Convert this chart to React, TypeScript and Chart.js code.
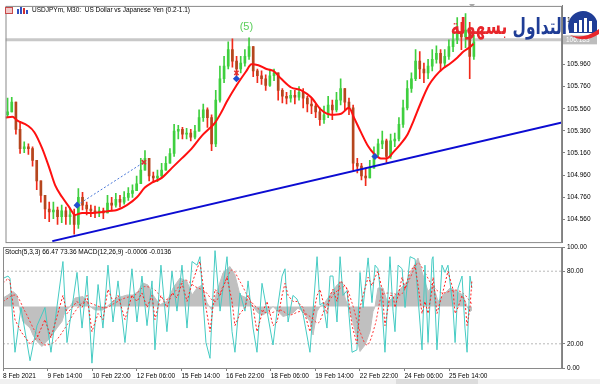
import React, { useEffect, useRef } from "react";
import { Chart, registerables } from "chart.js";

Chart.register(...registerables);

// ---------------- data ----------------
const titleText = "USDJPYm, M30:  US Dollar vs Japanese Yen (0.2-1.1)";
const indicatorText = "Stoch(5,3,3) 66.47 73.36 MACD(12,26,9) -0.0006 -0.0136";

const timeTickHours = [0, 32, 64, 96, 128, 160, 192, 224, 256, 288, 320];
const timeTickLabels = ["8 Feb 2021", "9 Feb 14:00", "10 Feb 22:00", "12 Feb 06:00", "15 Feb 14:00", "16 Feb 22:00", "18 Feb 06:00", "19 Feb 14:00", "22 Feb 22:00", "24 Feb 06:00", "25 Feb 14:00"];
const priceTicks = [104.56, 104.76, 104.96, 105.16, 105.36, 105.56, 105.76, 105.96, 106.16, 106.36];
const stochTicks = [0, 20, 80, 100];
const stochLevels = [20, 80];

const candleStepHours = 3;
const firstOpen = 105.506;
const candleClose = [105.532, 105.620, 105.374, 105.199, 105.216, 105.199, 105.093, 104.908, 104.776, 104.653,
  104.627, 104.644, 104.583, 104.636, 104.583, 104.600, 104.513, 104.759, 104.688, 104.653,
  104.636, 104.618, 104.636, 104.618, 104.706, 104.688, 104.741, 104.715, 104.759, 104.794,
  104.820, 104.882, 105.005, 105.111, 104.952, 104.935, 104.952, 105.005, 105.067, 105.155,
  105.357, 105.374, 105.330, 105.339, 105.304, 105.357, 105.480, 105.550, 105.480, 105.242,
  105.638, 105.831, 105.946, 106.095, 105.990, 105.919, 105.972, 106.033, 106.121, 105.902,
  105.858, 105.831, 105.770, 105.858, 105.884, 105.726, 105.673, 105.656, 105.682, 105.664,
  105.708, 105.656, 105.603, 105.585, 105.532, 105.462, 105.506, 105.594, 105.550, 105.638,
  105.743, 105.620, 105.568, 105.067, 105.041, 104.952, 104.935, 105.023, 105.146, 105.242,
  105.269, 105.128, 105.269, 105.286, 105.418, 105.568, 105.743, 105.831, 105.990, 105.919,
  105.884, 105.946, 106.007, 106.060, 105.972, 106.033, 106.121, 106.183, 106.253, 106.209,
  106.271, 106.033, 106.165];
const candleHigh = [105.656, 105.664, 105.612, 105.445, 105.260, 105.242, 105.216, 104.988, 104.891, 104.759,
  104.715, 104.715, 104.671, 104.688, 104.671, 104.653, 104.653, 104.838, 104.803, 104.715,
  104.688, 104.680, 104.671, 104.662, 104.776, 104.759, 104.794, 104.776, 104.811, 104.847,
  104.873, 104.952, 105.111, 105.181, 105.111, 104.988, 105.005, 105.067, 105.128, 105.199,
  105.418, 105.409, 105.392, 105.383, 105.374, 105.409, 105.550, 105.603, 105.568, 105.506,
  105.726, 105.946, 106.033, 106.165, 106.192, 106.033, 106.033, 106.095, 106.201, 106.121,
  105.919, 105.902, 105.866, 105.919, 105.919, 105.884, 105.743, 105.708, 105.726, 105.726,
  105.761, 105.743, 105.673, 105.656, 105.603, 105.568, 105.585, 105.673, 105.638, 105.708,
  105.831, 105.726, 105.656, 105.594, 105.111, 105.067, 105.023, 105.093, 105.216, 105.286,
  105.357, 105.286, 105.330, 105.339, 105.480, 105.638, 105.814, 105.884, 106.095, 106.077,
  105.972, 106.007, 106.095, 106.130, 106.095, 106.095, 106.183, 106.271, 106.385, 106.341,
  106.420, 106.341, 106.227];
const candleLow = [105.480, 105.532, 105.330, 105.155, 105.163, 105.146, 105.041, 104.829, 104.715, 104.565,
  104.539, 104.565, 104.513, 104.530, 104.513, 104.513, 104.425, 104.478, 104.644, 104.600,
  104.583, 104.574, 104.583, 104.565, 104.636, 104.636, 104.671, 104.671, 104.697, 104.732,
  104.759, 104.829, 104.891, 105.041, 104.908, 104.891, 104.900, 104.935, 105.005, 105.067,
  105.128, 105.286, 105.286, 105.286, 105.269, 105.286, 105.374, 105.445, 105.392, 105.181,
  105.216, 105.620, 105.796, 105.919, 105.937, 105.858, 105.884, 105.946, 106.007, 105.849,
  105.796, 105.779, 105.726, 105.761, 105.814, 105.638, 105.612, 105.603, 105.620, 105.603,
  105.638, 105.568, 105.532, 105.515, 105.480, 105.409, 105.427, 105.480, 105.462, 105.532,
  105.594, 105.550, 105.506, 105.005, 104.979, 104.917, 104.864, 104.952, 105.058, 105.128,
  105.199, 105.075, 105.111, 105.216, 105.269, 105.392, 105.550, 105.708, 105.814, 105.831,
  105.796, 105.831, 105.902, 105.972, 105.902, 105.937, 106.007, 106.077, 106.148, 106.095,
  106.113, 105.831, 106.007];

const maHours = [0, 5.0, 8.6, 15.8, 20.8, 26.5, 31.6, 35.9, 40.9, 45.9,
  50.2, 55.2, 62.4, 69.6, 74.6, 80.3, 87.5, 94.7, 100.4, 105.5,
  112.6, 119.8, 127.0, 134.1, 141.3, 146.3, 150.6, 155.7, 159.3, 166.4,
  173.6, 177.2, 182.2, 188.0, 193.0, 198.7, 205.9, 213.1, 220.2, 227.4,
  234.6, 241.8, 247.5, 251.1, 256.1, 261.1, 265.4, 270.5, 274.8, 279.8,
  284.8, 289.8, 294.1, 299.2, 304.9, 309.9, 315.7, 320.7, 325.7, 330.0,
  335.0, 337.2];
const maPrices = [105.480, 105.488, 105.453, 105.409, 105.348, 105.199, 105.023, 104.864, 104.759, 104.671,
  104.600, 104.618, 104.618, 104.627, 104.636, 104.644, 104.688, 104.759, 104.847, 104.891,
  104.935, 105.023, 105.111, 105.199, 105.313, 105.374, 105.427, 105.532, 105.620, 105.770,
  105.902, 105.963, 105.954, 105.919, 105.902, 105.831, 105.752, 105.726, 105.664, 105.550,
  105.506, 105.515, 105.568, 105.480, 105.348, 105.225, 105.155, 105.111, 105.111, 105.172,
  105.242, 105.330, 105.453, 105.612, 105.770, 105.858, 105.928, 105.972, 106.024, 106.077,
  106.121, 106.148];

const trendHours = [33.7, 401];
const trendPrices = [104.363, 105.436];
const tradeHours = [51.6, 99.7];
const tradePrices = [104.688, 105.076];
const markerHours = [51.6, 99.7, 166.4, 166.4, 266.2];
const markerPrices = [104.688, 105.076, 105.884, 105.831, 105.128];
const markerKinds = ["buy", "sell", "sell", "buy", "buy"];
const levelPrice = 106.183;
const waveHours = [173.6];
const wavePrices = [106.297];
const waveTexts = ["(5)"];

const macdHours = [0, 3.6, 7.2, 10.0, 11.5, 14.3, 19.4, 21.5, 24.4, 28.0,
  33.7, 38.7, 42.3, 44.5, 48.1, 51.7, 57.4, 62.4, 66.0, 71.7,
  74.6, 81.8, 89.0, 93.3, 96.8, 100.4, 104.0, 107.6, 112.6, 114.8,
  117.7, 122.0, 127.0, 132.0, 135.6, 139.2, 142.8, 146.3, 149.9, 153.5,
  157.8, 162.8, 166.4, 170.0, 175.0, 178.6, 182.9, 186.5, 190.1, 193.7,
  197.3, 200.9, 204.5, 208.0, 211.6, 215.2, 220.2, 222.4, 225.3, 227.4,
  229.6, 234.6, 239.6, 243.2, 245.4, 247.5, 249.0, 253.9, 256.1, 259.7,
  263.3, 265.4, 266.9, 269.0, 272.6, 275.5, 279.8, 283.4, 289.8, 294.1,
  297.7, 301.3, 304.9, 308.5, 312.1, 315.7, 320.7, 325.7, 330.0, 332.9,
  335.0, 336.4];
const macdValues = [0.017, 0.023, 0.030, 0.023, 0, -0.030, -0.043, -0.057, -0.070, -0.080,
  -0.063, -0.043, -0.030, -0.010, 0, 0.017, 0.020, 0, -0.007, -0.007,
  0, 0.017, 0.023, 0.023, 0.030, 0.047, 0.043, 0.023, 0.003, 0.007,
  0.010, 0.037, 0.057, 0.050, 0.023, 0.037, 0.043, 0.007, -0.007, 0.030,
  0.067, 0.080, 0.063, 0.023, 0.017, 0.003, -0.013, -0.017, -0.010, 0,
  -0.010, -0.020, -0.017, -0.013, -0.003, -0.010, -0.030, -0.057, -0.010, 0,
  0.003, 0.023, 0.043, 0.050, 0.017, 0, -0.010, -0.063, -0.090, -0.077,
  -0.050, -0.010, 0, 0.037, 0.037, 0.010, 0.017, 0.030, 0.050, 0.077,
  0.097, 0.063, 0.030, 0.043, 0.010, 0.023, 0.037, 0.030, 0.023, 0,
  -0.010, -0.007];
const macdSignalHours = [0, 8.6, 15.8, 23.0, 30.1, 37.3, 44.5, 51.7, 58.8, 66.0,
  73.2, 80.3, 87.5, 94.7, 101.9, 109.0, 116.2, 123.4, 130.6, 137.7,
  144.9, 152.1, 159.3, 164.3, 170.0, 177.2, 184.4, 191.5, 198.7, 205.9,
  213.1, 220.2, 226.0, 231.0, 238.2, 245.4, 250.4, 256.1, 261.1, 266.9,
  271.9, 277.6, 284.8, 292.0, 297.7, 302.7, 308.5, 315.7, 324.3, 331.4,
  336.4];
const macdSignalValues = [0.010, 0.023, -0.010, -0.050, -0.077, -0.070, -0.043, -0.010, 0.010, 0.003,
  -0.003, 0.007, 0.017, 0.023, 0.040, 0.033, 0.013, 0.030, 0.053, 0.040,
  0.030, 0.010, 0.050, 0.073, 0.050, 0.013, -0.007, -0.013, -0.007, -0.017,
  -0.010, -0.020, -0.033, -0.003, 0.027, 0.040, 0.007, -0.050, -0.077, -0.037,
  0.023, 0.027, 0.023, 0.057, 0.087, 0.067, 0.040, 0.027, 0.033, 0.023,
  0.005];

const stochHours = [0, 3.6, 5.0, 8.6, 12.9, 19.4, 24.4, 30.1, 34.4, 43.0,
  45.9, 53.1, 56.7, 60.3, 63.8, 68.2, 71.7, 75.3, 78.9, 82.5,
  87.5, 92.5, 96.1, 99.7, 103.3, 106.9, 109.0, 113.3, 117.6, 121.2,
  124.8, 128.4, 132.0, 135.6, 139.2, 141.3, 145.6, 148.5, 152.1, 155.7,
  160.7, 164.3, 166.4, 170.0, 173.6, 175.8, 179.4, 182.2, 185.8, 189.4,
  193.7, 196.6, 200.2, 202.3, 204.5, 208.0, 210.9, 215.2, 220.2, 225.3,
  227.4, 229.6, 232.4, 234.6, 236.7, 239.6, 241.8, 243.9, 246.8, 250.4,
  253.9, 256.1, 258.3, 261.9, 264.7, 266.9, 269.0, 271.9, 274.0, 277.6,
  279.8, 281.2, 283.4, 286.3, 288.4, 292.0, 295.6, 300.6, 302.7, 304.9,
  307.8, 308.5, 311.3, 314.9, 317.1, 319.2, 322.8, 324.3, 326.4, 329.3,
  331.4, 332.9, 335.0, 336.4];
const stochMain = [74, 76, 74, 13, 50, 6, 35, 50, 13, 88,
  21, 79, 33, 76, 4, 69, 33, 85, 38, 72,
  21, 82, 38, 76, 35, 72, 15, 85, 30, 80,
  47, 85, 33, 88, 85, 92, 21, 8, 97, 47,
  92, 30, 13, 62, 47, 72, 33, 13, 70, 47,
  19, 47, 76, 82, 38, 60, 57, 45, 13, 92,
  52, 54, 33, 76, 76, 38, 92, 60, 64, 13,
  15, 79, 50, 91, 54, 85, 82, 50, 13, 92,
  47, 30, 85, 82, 50, 92, 90, 15, 85, 21,
  90, 92, 15, 85, 79, 85, 50, 21, 66, 76,
  33, 13, 76, 66];
const stochSignal = [70, 74, 72, 40, 30, 20, 25, 40, 25, 60,
  45, 55, 50, 60, 30, 45, 40, 65, 55, 60,
  40, 60, 55, 62, 50, 60, 40, 60, 50, 62,
  58, 70, 55, 70, 82, 88, 50, 30, 65, 60,
  75, 55, 35, 45, 50, 60, 50, 30, 45, 55,
  35, 38, 60, 70, 60, 55, 55, 50, 30, 60,
  65, 55, 45, 60, 65, 55, 72, 70, 65, 35,
  20, 50, 60, 75, 68, 75, 80, 65, 35, 60,
  60, 50, 60, 75, 65, 80, 85, 45, 55, 45,
  65, 75, 45, 60, 70, 80, 65, 45, 50, 60,
  55, 35, 50, 73];

// ---------------- layout constants ----------------
const X_MAX = 401;
const PRICE_MIN = 104.354;
const PRICE_MAX = 106.49;
const MACD_MIN = -0.123;
const MACD_MAX = 0.119;
const FONT = "Liberation Sans";
const AXIS_W = 38;

const pts = (xs: number[], ys: number[]) => xs.map((x, i) => ({ x, y: ys[i] }));

export default function App() {
  const mainRef = useRef<HTMLCanvasElement | null>(null);
  const indRef = useRef<HTMLCanvasElement | null>(null);

  useEffect(() => {
    const hours = candleClose.map((_, i) => i * candleStepHours + candleStepHours / 2);
    const opens = candleClose.map((_, i) => (i === 0 ? firstOpen : candleClose[i - 1]));
    const up = candleClose.map((c, i) => c >= opens[i]);
    const wickData = hours.map((h, i) => ({
      x: h,
      y: [Math.min(candleLow[i], opens[i], candleClose[i]), Math.max(candleHigh[i], opens[i], candleClose[i])],
    }));
    const bodyData = hours.map((h, i) => ({ x: h, y: [opens[i], candleClose[i]] }));
    const upColor = "#3fcf3f";
    const downWick = "#f02a1a";
    const downBody = "#b5461e";

    const mainDecor = {
      id: "mainDecor",
      afterDraw(chart: any) {
        const { ctx, chartArea: a, scales } = chart;
        ctx.save();
        ctx.strokeStyle = "#8a8a8a";
        ctx.lineWidth = 1;
        ctx.strokeRect(a.left + 0.5, a.top + 0.5, a.right - a.left - 1, a.bottom - a.top);
        // title icons
        ctx.fillStyle = "#f0c8c8";
        ctx.fillRect(5, 7, 8, 7);
        ctx.strokeStyle = "#c84848";
        ctx.strokeRect(5.5, 7.5, 7, 6);
        ctx.fillStyle = "#3050c0";
        ctx.fillRect(17, 9, 2, 5);
        ctx.fillRect(20, 7, 2, 7);
        ctx.fillStyle = "#d03030";
        ctx.fillRect(23, 8, 2, 6);
        ctx.fillStyle = "#3050c0";
        ctx.fillRect(26, 10, 2, 4);
        // title
        ctx.fillStyle = "#000";
        ctx.font = `6.5px "${FONT}"`;
        ctx.textBaseline = "middle";
        ctx.textAlign = "left";
        ctx.fillText(titleText, 32, 10.5);
        // wave labels
        ctx.font = `11px "${FONT}"`;
        ctx.fillStyle = "#5ccf5c";
        ctx.textAlign = "center";
        waveTexts.forEach((t, i) => {
          ctx.fillText(t, scales.x.getPixelForValue(waveHours[i]), scales.y.getPixelForValue(wavePrices[i]));
        });
        // price box
        const py = scales.y.getPixelForValue(levelPrice);
        ctx.fillStyle = "#bdbdbd";
        ctx.fillRect(a.right + 1, py - 4.5, 34, 9);
        ctx.fillStyle = "#fff";
        ctx.font = `6.5px "${FONT}"`;
        ctx.textAlign = "left";
        ctx.fillText(levelPrice.toFixed(3), a.right + 4, py);
        // shift marker
        ctx.fillStyle = "#a8a8a8";
        ctx.beginPath();
        ctx.moveTo(469, 4);
        ctx.lineTo(475, 4);
        ctx.lineTo(472, 7.5);
        ctx.closePath();
        ctx.fill();
        ctx.restore();
      },
    };

    const indDecor = {
      id: "indDecor",
      afterDraw(chart: any) {
        const { ctx, chartArea: a } = chart;
        ctx.save();
        ctx.strokeStyle = "#8a8a8a";
        ctx.lineWidth = 1;
        ctx.strokeRect(a.left + 0.5, a.top + 0.5, a.right - a.left - 1, a.bottom - a.top);
        ctx.fillStyle = "#000";
        ctx.font = `6.5px "${FONT}"`;
        ctx.textBaseline = "middle";
        ctx.textAlign = "left";
        ctx.fillText(indicatorText, 5, a.top + 5);
        ctx.restore();
      },
    };

    const tickFont = { family: FONT, size: 6.5 };

    const main = new Chart(mainRef.current as HTMLCanvasElement, {
      type: "bar",
      data: {
        datasets: [
          {
            type: "line",
            data: [{ x: 0, y: levelPrice }, { x: X_MAX, y: levelPrice }],
            borderColor: "#c8c8c8",
            borderWidth: 3,
            pointRadius: 0,
            order: 9,
          },
          {
            type: "bar",
            data: wickData,
            backgroundColor: up.map((u) => (u ? upColor : downWick)),
            barThickness: 1,
            grouped: false,
            order: 6,
          },
          {
            type: "bar",
            data: bodyData,
            backgroundColor: up.map((u) => (u ? upColor : downBody)),
            barThickness: 2,
            minBarLength: 1,
            grouped: false,
            order: 5,
          },
          {
            type: "line",
            data: pts(trendHours, trendPrices),
            borderColor: "#0c0cd2",
            borderWidth: 2,
            pointRadius: 0,
            order: 3,
          },
          {
            type: "line",
            data: pts(tradeHours, tradePrices),
            borderColor: "#4a78d8",
            borderWidth: 1,
            borderDash: [2, 2],
            pointRadius: 0,
            order: 3,
          },
          {
            type: "line",
            data: pts(maHours, maPrices),
            borderColor: "#ff1010",
            borderWidth: 2,
            pointRadius: 0,
            cubicInterpolationMode: "monotone",
            order: 2,
          },
          {
            type: "line",
            data: pts(markerHours, markerPrices),
            showLine: false,
            pointStyle: markerKinds.map((k) => (k === "buy" ? "rectRot" : "crossRot")),
            pointRadius: markerKinds.map((k) => (k === "buy" ? 2.5 : 3)),
            pointBackgroundColor: markerKinds.map((k) => (k === "buy" ? "#2050d0" : "#e03030")),
            pointBorderColor: markerKinds.map((k) => (k === "buy" ? "#2050d0" : "#e03030")),
            pointBorderWidth: 1.5,
            order: 1,
          },
        ] as any,
      },
      options: {
        animation: false,
        responsive: false,
        maintainAspectRatio: false,
        events: [],
        layout: { padding: { left: 3, top: 3, right: 0, bottom: 2 } },
        plugins: { legend: { display: false }, tooltip: { enabled: false } },
        scales: {
          x: { type: "linear", min: 0, max: X_MAX, offset: false, display: false },
          y: {
            position: "right",
            min: PRICE_MIN,
            max: PRICE_MAX,
            afterFit: (s: any) => {
              s.width = AXIS_W;
            },
            afterBuildTicks: (s: any) => {
              s.ticks = priceTicks.map((v) => ({ value: v }));
            },
            ticks: {
              callback: (v: any) => Number(v).toFixed(3),
              font: tickFont,
              color: "#000",
              padding: 2,
            },
            grid: { drawOnChartArea: false, drawTicks: true, tickLength: 3, color: "#808080" },
            border: { color: "#808080", width: 1 },
          },
        },
      } as any,
      plugins: [mainDecor],
    });

    const ind = new Chart(indRef.current as HTMLCanvasElement, {
      type: "line",
      data: {
        datasets: [
          {
            data: pts(macdHours, macdValues),
            yAxisID: "m",
            borderColor: "#c0c0c0",
            backgroundColor: "#c0c0c0",
            borderWidth: 1,
            fill: { value: 0 },
            pointRadius: 0,
            order: 9,
          },
          ...stochLevels.map((lv) => ({
            data: [{ x: 0, y: lv }, { x: X_MAX, y: lv }],
            yAxisID: "s",
            borderColor: "#b8b8b8",
            borderWidth: 1,
            borderDash: [2, 2],
            pointRadius: 0,
            order: 8,
          })),
          {
            data: pts(macdSignalHours, macdSignalValues),
            yAxisID: "m",
            borderColor: "#ff3a3a",
            borderWidth: 1,
            borderDash: [2, 2],
            pointRadius: 0,
            cubicInterpolationMode: "monotone",
            order: 3,
          },
          {
            data: pts(stochHours, stochMain),
            yAxisID: "s",
            borderColor: "#45cbc3",
            borderWidth: 1,
            pointRadius: 0,
            order: 2,
          },
          {
            data: pts(stochHours, stochSignal),
            yAxisID: "s",
            borderColor: "#ff2020",
            borderWidth: 1,
            borderDash: [2, 2],
            pointRadius: 0,
            order: 1,
          },
        ] as any,
      },
      options: {
        animation: false,
        responsive: false,
        maintainAspectRatio: false,
        events: [],
        layout: { padding: { left: 3, top: 7, right: 0, bottom: 4 } },
        plugins: { legend: { display: false }, tooltip: { enabled: false } },
        scales: {
          x: {
            type: "linear",
            min: 0,
            max: X_MAX,
            offset: false,
            afterFit: (s: any) => {
              s.height = 12;
            },
            afterBuildTicks: (s: any) => {
              s.ticks = timeTickHours.map((v) => ({ value: v }));
            },
            ticks: {
              callback: (v: any) => timeTickLabels[timeTickHours.indexOf(Number(v))],
              font: tickFont,
              color: "#000",
              align: "start",
              autoSkip: false,
              maxRotation: 0,
              padding: 1,
            },
            grid: { drawOnChartArea: false, drawTicks: true, tickLength: 3, color: "#808080" },
            border: { color: "#808080", width: 1 },
          },
          s: {
            position: "right",
            min: 0,
            max: 100,
            afterFit: (s: any) => {
              s.width = AXIS_W;
            },
            afterBuildTicks: (s: any) => {
              s.ticks = stochTicks.map((v) => ({ value: v }));
            },
            ticks: {
              callback: (v: any) => Number(v).toFixed(2),
              font: tickFont,
              color: "#000",
              padding: 2,
            },
            grid: { drawOnChartArea: false, drawTicks: true, tickLength: 3, color: "#808080" },
            border: { color: "#808080", width: 1 },
          },
          m: { display: false, min: MACD_MIN, max: MACD_MAX },
        },
      } as any,
      plugins: [indDecor],
    });

    return () => {
      main.destroy();
      ind.destroy();
    };
  }, []);

  return (
    <div style={{ position: "fixed", left: 0, top: 0, width: 600, height: 384, background: "#fff", overflow: "hidden" }}>
      <div style={{ position: "absolute", left: 0, top: 379, width: 600, height: 5, background: "#f0f0f0" }} />
      <div style={{ position: "absolute", left: 396, top: 379, width: 82, height: 5, background: "#dcdcdc" }} />
      <canvas ref={mainRef} width={600} height={248} style={{ position: "absolute", left: 0, top: 0, width: 600, height: 248 }} />
      <canvas ref={indRef} width={600} height={144} style={{ position: "absolute", left: 0, top: 240, width: 600, height: 144 }} />
      <div
        dir="rtl"
        style={{
          position: "absolute",
          left: 367,
          top: 12,
          width: 200,
          textAlign: "right",
          whiteSpace: "nowrap",
          font: 'bold 22px "DejaVu Sans"',
          lineHeight: "30px",
          transform: "scaleX(0.7)",
          transformOrigin: "right center",
        }}
      >
        <span style={{ color: "#1f3d96" }}>التداول</span> <span style={{ color: "#e8262b" }}>بسهولة</span>
      </div>
      <svg style={{ position: "absolute", left: 566, top: 9 }} width={34} height={34} viewBox="0 0 34 34">
        <path d="M3 22 A14 14 0 0 1 31 12 L31 24 L3 24 Z" fill="#1f3d96" />
        <rect x={8} y={14} width={3} height={9} fill="#fff" />
        <rect x={13} y={11} width={3} height={12} fill="#fff" />
        <rect x={18} y={9} width={3} height={14} fill="#fff" />
        <rect x={23} y={12} width={3} height={11} fill="#fff" />
        <path d="M4 26 Q18 31 33 20 L33 25 Q18 35 4 26 Z" fill="#e8262b" />
      </svg>
    </div>
  );
}
